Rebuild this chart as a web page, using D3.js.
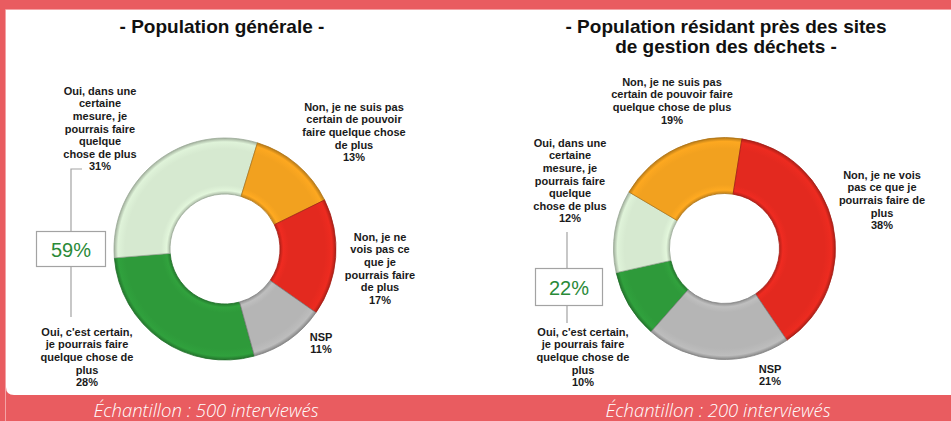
<!DOCTYPE html>
<html>
<head>
<meta charset="utf-8">
<script src="https://cdn.jsdelivr.net/npm/d3@7"></script>
<style>
  html, body { margin: 0; padding: 0; background: #fff; }
  svg { display: block; }
</style>
</head>
<body>
<svg id="chart" width="951" height="421"></svg>
<script>
// Answer categories (shared by both surveys)
const categories = ["certain", "mesure", "pasCertain", "neVoisPas", "nsp"];

// Shares of respondents (%) in each category
const generalValues = [28, 31, 13, 17, 11];
const residentValues = [10, 12, 19, 38, 21];

// Label lines for each category, per panel
const generalLabels = [
  ["Oui, c'est certain,", "je pourrais faire", "quelque chose de", "plus"],
  ["Oui, dans une", "certaine", "mesure, je", "pourrais faire", "quelque", "chose de plus"],
  ["Non, je ne suis pas", "certain de pouvoir", "faire quelque chose", "de plus"],
  ["Non, je ne", "vois pas ce", "que je", "pourrais faire", "de plus"],
  ["NSP"]
];
const residentLabels = [
  ["Oui, c'est certain,", "je pourrais faire", "quelque chose de", "plus"],
  ["Oui, dans une", "certaine", "mesure, je", "pourrais faire", "quelque", "chose de plus"],
  ["Non, je ne suis pas", "certain de pouvoir faire", "quelque chose de plus"],
  ["Non, je ne vois", "pas ce que je", "pourrais faire de", "plus"],
  ["NSP"]
];

const panelTitles = [
  ["- Population générale -"],
  ["- Population résidant près des sites", "de gestion des déchets -"]
];
const sampleSizes = [500, 200];

// Styling
const colors = {
  certain: "#2e9a3a",
  mesure: "#d6e9d0",
  pasCertain: "#f2a11f",
  neVoisPas: "#e3291f",
  nsp: "#b5b5b5"
};
const frameRed = "#e95c60";

// Layout of each panel
const panels = [
  {
    values: generalValues, labels: generalLabels, titles: panelTitles[0], sample: sampleSizes[0],
    cx: 225, cy: 249, startDeg: 164.6,
    titleX: 222, titleY: 33, footX: 206,
    labelPos: [[87, 332], [100, 91], [354, 107], [380, 237], [321, 337]],
    bracket: { x: 71, top: 169, tick: 82, boxX: 36, boxY: 231, boxW: 69, boxH: 35, bottom: 317 }
  },
  {
    values: residentValues, labels: residentLabels, titles: panelTitles[1], sample: sampleSizes[1],
    cx: 724.5, cy: 248.5, startDeg: 221.4,
    titleX: 726, titleY: 33, footX: 718,
    labelPos: [[583, 332], [570, 143], [672, 82], [882, 175], [770, 369]],
    bracket: { x: 567, top: 232, tick: null, boxX: 535, boxY: 268, boxW: 67, boxH: 37, bottom: 323 }
  }
];

const outerR = 111, innerR = 55;
const lineH = 12.6;

const svg = d3.select("#chart");
const W = 951, H = 421;

// Frame: red border and footer band, white panel
svg.append("rect").attr("width", W).attr("height", H).attr("fill", frameRed);
svg.append("path")
  .attr("d", `M6,10 H${W} V395 H14 Q6,395 6,387 Z`)
  .attr("fill", "#fff");
svg.append("path")
  .attr("d", `M5.5,${H} V9.5 H${W}`)
  .attr("fill", "none").attr("stroke", "#f4a3a5").attr("stroke-width", 1);

const defs = svg.append("defs");

function shade(c, k) {
  const col = d3.color(c);
  return k > 0 ? col.brighter(k).formatHex() : col.darker(-k).formatHex();
}

panels.forEach((p, pi) => {
  const g = svg.append("g");

  // Titles
  p.titles.forEach((t, i) => {
    g.append("text")
      .attr("x", p.titleX).attr("y", p.titleY + i * 19.5)
      .attr("text-anchor", "middle")
      .attr("font-family", "Liberation Sans, Arial, sans-serif")
      .attr("font-weight", "bold").attr("font-size", 19)
      .attr("fill", "#111")
      .text(t);
  });

  // Footer sample size
  g.append("text")
    .attr("x", p.footX).attr("y", 417)
    .attr("text-anchor", "middle")
    .attr("font-family", "Open Sans, sans-serif")
    .attr("font-style", "italic").attr("font-weight", 300)
    .attr("font-size", 18.5)
    .attr("fill", "#fff")
    .text(`Échantillon : ${p.sample} interviewés`);

  // Donut
  const data = categories.map((c, i) => ({ cat: c, value: p.values[i], lines: p.labels[i], pos: p.labelPos[i] }));
  const start = p.startDeg * Math.PI / 180;
  const pie = d3.pie().value(d => d.value).sort(null)
    .startAngle(start).endAngle(start + 2 * Math.PI);
  const arc = d3.arc().innerRadius(innerR).outerRadius(outerR);
  const arcs = pie(data);

  // Bevelled fill per category
  categories.forEach(c => {
    const grad = defs.append("radialGradient")
      .attr("id", `g${pi}-${c}`)
      .attr("gradientUnits", "userSpaceOnUse")
      .attr("cx", 0).attr("cy", 0).attr("r", outerR);
    const base = colors[c];
    [[innerR / outerR, shade(base, -0.6)],
     [innerR / outerR + 0.03, shade(base, 0.15)],
     [innerR / outerR + 0.08, base],
     [0.9, base],
     [0.965, shade(base, 0.12)],
     [1, shade(base, -0.8)]].forEach(([o, col]) => {
      grad.append("stop").attr("offset", o).attr("stop-color", col);
    });
  });

  const donut = g.append("g").attr("transform", `translate(${p.cx},${p.cy})`);
  donut.selectAll("path.slice")
    .data(arcs)
    .join("path")
    .attr("class", "slice")
    .attr("d", arc)
    .attr("fill", d => `url(#g${pi}-${d.data.cat})`)
    .attr("stroke", d => shade(colors[d.data.cat], -0.9))
    .attr("stroke-width", 0.8)
    .attr("stroke-linejoin", "round");

  // Category labels with percentages
  const font = "Liberation Sans, Arial, sans-serif";
  data.forEach(d => {
    const lines = d.lines.concat([`${d.value}%`]);
    const t = g.append("text")
      .attr("text-anchor", "middle")
      .attr("font-family", font)
      .attr("font-weight", "bold").attr("font-size", 11)
      .attr("fill", "#1a1a1a");
    lines.forEach((l, i) => {
      t.append("tspan")
        .attr("x", d.pos[0])
        .attr("y", d.pos[1] + i * lineH)
        .attr("dy", "0.35em")
        .text(l);
    });
  });

  // Bracket grouping the two "Oui" answers with their total
  const b = p.bracket;
  const total = d3.sum(data.filter(d => d.cat === "certain" || d.cat === "mesure"), d => d.value);
  const lineCol = "#a3a3a3";
  const path = d3.path();
  if (b.tick !== null) { path.moveTo(b.tick, b.top); path.lineTo(b.x, b.top); }
  else path.moveTo(b.x, b.top);
  path.lineTo(b.x, b.boxY);
  path.moveTo(b.x, b.boxY + b.boxH);
  path.lineTo(b.x, b.bottom);
  g.append("path").attr("d", path.toString())
    .attr("fill", "none").attr("stroke", lineCol).attr("stroke-width", 1.2);
  g.append("rect")
    .attr("x", b.boxX + 0.5).attr("y", b.boxY + 0.5)
    .attr("width", b.boxW).attr("height", b.boxH)
    .attr("fill", "#fff").attr("stroke", lineCol).attr("stroke-width", 1.2);
  g.append("text")
    .attr("x", b.boxX + b.boxW / 2 + 0.5).attr("y", b.boxY + b.boxH / 2 + 1)
    .attr("dy", "0.35em")
    .attr("text-anchor", "middle")
    .attr("font-family", font)
    .attr("font-size", 20)
    .attr("fill", "#2a8a38")
    .text(`${total}%`);
});
</script>
</body>
</html>
